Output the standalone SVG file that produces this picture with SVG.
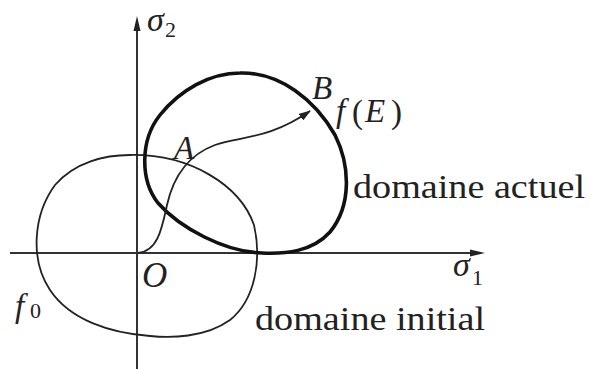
<svg xmlns="http://www.w3.org/2000/svg" width="590" height="369" viewBox="0 0 590 369">
<style>
.t{font-family:"Liberation Serif","Times New Roman",serif;fill:#222;font-size:33px}
.m{font-family:"Liberation Serif","Times New Roman",serif;font-style:italic;fill:#222;font-size:33px}
.s{font-family:"Liberation Serif","Times New Roman",serif;fill:#222;font-size:22px}
.axis{stroke:#333;stroke-width:2;fill:none}
.thin{stroke:#222;stroke-width:1.8;fill:none}
.thick{stroke:#111;stroke-width:3.6;fill:none}
</style>
<defs>
<marker id="ah" markerWidth="12" markerHeight="8" refX="11" refY="4" orient="auto" markerUnits="userSpaceOnUse">
<path d="M0,0 L12,4 L0,8 Z" fill="#222"/>
</marker>
</defs>
<rect width="590" height="369" fill="#fff"/>
<g id="axes">
<line class="axis" x1="137" y1="369" x2="137" y2="28"/>
<path d="M137,16 L140.5,31 L133.5,31 Z" fill="#222"/>
<line class="axis" x1="10" y1="253" x2="472" y2="253"/>
<path d="M485,253 L470,249.5 L470,256.5 Z" fill="#222"/>
<text class="m" x="147" y="31" style="font-size:34px">σ</text><text class="s" x="165" y="37">2</text>
<text class="m" x="453" y="276" style="font-size:34px">σ</text><text class="s" x="472" y="285">1</text>
<text class="m" x="142" y="287" style="font-size:35px">O</text>
</g>
<g id="initial">
<path class="thin" d="M130,155 C190,154 240,185 254,225 C262,260 255,300 230,320 C205,338 170,338 150,336 C110,333 70,320 50,290 C30,260 33,215 55,185 C75,162 105,155 130,155 Z"/>
<text class="m" x="15" y="317">f</text><text class="s" x="30" y="318">0</text>
<text class="t" x="255" y="330" textLength="230" lengthAdjust="spacingAndGlyphs">domaine initial</text>
</g>
<g id="actuel">
<path class="thick" d="M240,73 C280,72 315,100 335,135 C350,165 352,205 330,232 C312,252 285,254 262,253 C225,252 180,228 158,203 C140,180 140,140 160,115 C180,90 210,73 240,73 Z"/>
<text class="m" x="312" y="99">B</text>
<text class="m" x="336" y="122">f</text><text class="t" x="352" y="123">(</text><text class="m" x="365" y="122">E</text><text class="t" x="391" y="123">)</text>
<text class="t" x="353" y="198" textLength="232" lengthAdjust="spacingAndGlyphs">domaine actuel</text>
</g>
<g id="connectors">
<path class="thin" d="M138,253 C158,251 162,228 167,205 C173,178 188,155 215,145 C240,136 268,140 310,111" marker-end="url(#ah)"/>
</g>
<g id="pointA">
<text class="m" x="174" y="159">A</text>
</g>
</svg>
